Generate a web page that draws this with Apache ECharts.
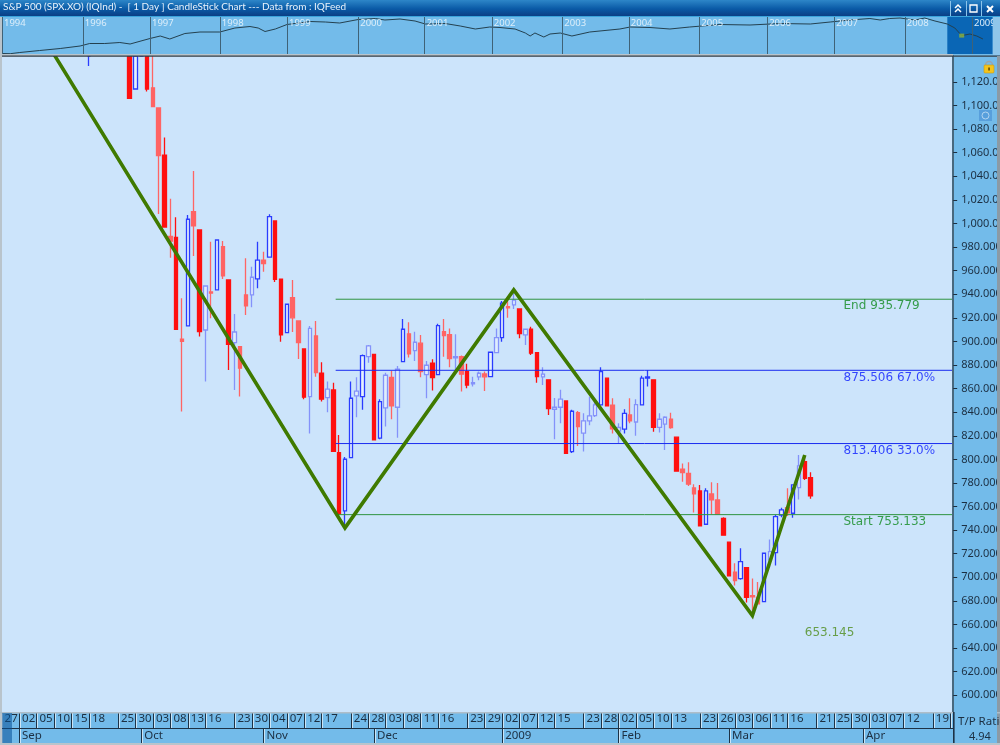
<!DOCTYPE html>
<html><head><meta charset="utf-8">
<style>html,body{margin:0;padding:0;background:#73bbea;overflow:hidden}#c{width:1000px;height:745px}</style>
<script src="https://cdn.jsdelivr.net/npm/echarts@6/dist/echarts.min.js"></script>
</head><body><div id="c"></div>
<script>
// session index, open, close, low, high
const ohlc = [
[15,1150,1160,1133.6,1170],[22,1150,1106,1106,1170],[23,1114,1150,1114,1170],[24,1160,1150,1141.5,1170],[25,1160,1114,1112,1170],
[26,1115,1099,1099,1160],[27,1098,1057.5,1008,1098],[28,1058,997,997,1073],[29,989,985,971,1021],[30,988.3,910.3,910.3,1005.3],
[31,902,900,840.5,936.6],[32,913.1,1003.6,913.1,1007.2],[33,1010,997.9,972.5,1044.5],[34,994.5,908.3,904.1,994.5],[35,909.7,947,866,947],
[36,942,941,919.7,984.6],[37,943.7,986,943.7,986],[38,980.4,955.5,953,985.2],[39,952.1,897.6,875.8,952.1],[40,899,908,858.9,923.3],
[41,895.6,877.3,853.2,895.6],[42,939.4,930.1,922.5,970.5],[43,939.4,954.4,929,963.4],[44,953,968.9,945,984.6],[45,969,966,959,976],
[46,971.4,1005.8,971.4,1007.8],[47,1002.2,952.7,950.4,1002.2],[48,952.7,905.5,899.8,952.7],[49,907.5,931.5,907.5,931.5],[50,937.1,920,908,952.1],
[51,917.4,899,885,917.4],[52,893.6,852.7,851,893.6],[53,853.2,911,822,913],[54,904.7,873.5,870,917.4],[55,873,851,849,882.4],
[56,852.3,859.5,840,866],[57,858.9,806.9,806.9,865],[58,805.7,753.7,753.7,820.7],[59,756.3,800.1,743,802],[60,801.5,851.8,801.5,866],
[61,853.8,857.8,835.8,869.6],[62,853.2,888,842,889],[63,887.1,896.2,882,897],[64,889.1,816.5,816,889.1],[65,818,849,817,851],
[66,843.6,871.3,827.8,873.5],[67,869.6,845.3,834,875.2],[68,844.2,876.4,818.4,879.2],[69,882.9,910.3,882.9,919],[70,906.4,889.4,886.3,916.3],
[71,892.2,899.3,883.5,908.3],[72,898.5,874.4,869.6,905.5],[73,871.9,879.8,851.8,883.5],[74,881.5,869.3,858.3,884.9],[75,871.9,913.4,871.9,915],
[76,908.3,904.9,887,919],[77,905.8,885.4,878,911],[78,886,887,875.8,906],[79,887,872.2,857.5,888],[80,874.4,863,860.3,881],
[81,864,865,861.7,870],[82,869.9,873,867,874.5],[83,872.4,870,858,874.4],[84,870.1,890.8,870.1,890.8],[85,890.5,903.2,890,911],
[86,903.2,932.4,899.8,934.3],[87,929.5,928.5,920,935],[88,931,935,927.5,942],[89,927.5,906.6,902.7,927.5],[90,905.5,910.3,897,910.3],
[91,910.3,890,888.5,912.5],[92,890.5,870.1,865,890.5],[93,870,872.2,863,878],[94,867.4,843,837.7,867.4],[95,842.5,844.2,817,852],
[96,844.2,851,830.6,859],[97,849.5,805.2,805.2,849.5],[98,806.6,840.8,805.5,842],[99,839.6,827.8,811.4,841],[100,822.2,832.6,806.6,839],
[101,832.6,836.8,829,853],[102,837.1,846.2,836,850],[103,846.2,874.4,846.2,878],[104,868.8,845.3,845.3,868.8],[105,845.9,825.8,822,851.8],
[106,824,827,813.7,830.6],[107,825.6,839,822,842.5],[108,837.7,832.6,830.6,851.8],[109,831.7,846.4,820,851],[110,846.2,868.8,846.2,870.8],
[111,868.8,870,861.7,875.8],[112,867.4,827.2,823.5,867.4],[113,827.2,834,822.7,839],[114,829.8,835.7,808,836.5],[115,834,827,826,839.6],
[116,818.8,790,790,818.8],[117,791.6,788.8,781,796.6],[118,788,779,777.5,797.5],[119,775.8,770.7,755,779],[120,773.2,743.6,743,778.3],
[121,745,773.2,745,775.6],[122,770.7,765.6,753.5,780.6],[123,765.6,753.5,753,780],[124,750,735.7,735.7,751],[125,729.8,701.2,701.2,729.8],
[126,704.3,697.2,693,712],[127,698.9,713.3,698,724.7],[128,708.2,683,678.6,708.2],[129,684.5,683.5,668,699],[130,683,677.5,677,696],
[131,679.4,720.4,679.4,720.4],[132,714.8,721.8,708,732],[133,721,751.5,710,753],[134,752.7,757.2,751,759],[135,759,754.6,752,775.6],
[136,754.3,778.3,750.6,779],[137,776,794.4,766,803.7],[138,798,784,782.5,803],[139,784.5,769,766.7,789]
];
const faintSessions = [26,27,29,31,33,36,38,41,42,45,50,51,54,67,70,72,76,77,79,83,87,99,105,108,115,117,118,119,122,123,126,129,130,135,
 35,40,43,53,56,61,63,66,68,71,73,78,81,82,85,88,90,93,95,96,100,101,102,106,109,113,114,132,137];
const zigzag = [[9,1143.4],[59,741.9],[88,943.7],[129,667.5],[138,803.7]];
const levelFrom = 57.4, levelTo = 163.5;
const levelEnd = 935.779, levelUpper = 875.506, levelLower = 813.406, levelStart = 753.133, projected = 653.145;
const levelNames = ['End 935.779','875.506 67.0%','813.406 33.0%','Start 753.133'];
const priceMin = 585.8, priceMax = 1142;
const priceTicks = [600,620,640,660,680,700,720,740,760,780,800,820,840,860,880,900,920,940,960,980,1000,1020,1040,1060,1080,1100,1120];
const dayTicks = [[0,'27'],[3,'02'],[6,'05'],[9,'10'],[12,'15'],[15,'18'],[20,'25'],[23,'30'],[26,'03'],[29,'08'],[32,'13'],[35,'16'],[40,'23'],[43,'30'],[46,'04'],[49,'07'],[52,'12'],[55,'17'],[60,'24'],[63,'28'],[66,'03'],[69,'08'],[72,'11'],[75,'16'],[80,'23'],[83,'29'],[86,'02'],[89,'07'],[92,'12'],[95,'15'],[100,'23'],[103,'28'],[106,'02'],[109,'05'],[112,'10'],[115,'13'],[120,'23'],[123,'26'],[126,'03'],[129,'06'],[132,'11'],[135,'16'],[140,'21'],[143,'25'],[146,'30'],[149,'03'],[152,'07'],[155,'12'],[160,'19'],[163,'26']];
const monthTicks = [[0,''],[3,'Sep'],[24,'Oct'],[45,'Nov'],[64,'Dec'],[86,'2009'],[106,'Feb'],[125,'Mar'],[148,'Apr']];
const overviewYears = [[0,'1994'],[1.18,'1996'],[2.16,'1997'],[3.18,'1998'],[4.16,'1999'],[5.2,'2000'],[6.17,'2001'],[7.15,'2002'],[8.18,'2003'],[9.15,'2004'],[10.18,'2005'],[11.17,'2006'],[12.15,'2007'],[13.18,'2008'],[14.16,'2009']];
const overviewLine = [[0,.5],[.12,.3],[.26,1.5],[.55,3.5],[.85,5.5],[1.14,8],[1.28,10.5],[1.5,10.5],[1.72,11.5],[1.87,10],[2.16,15.5],[2.31,18],[2.45,15],[2.67,20.5],[2.89,22],[3.18,22],[3.4,26],[3.62,27.5],[3.74,26],[3.84,22.5],[3.99,25],[4.16,29.5],[4.5,32.5],[4.72,32],[4.93,31],[5.2,34.5],[5.45,35.5],[5.59,34],[5.81,35],[6.03,33],[6.18,30],[6.47,30.5],[6.69,28],[6.91,25],[7.12,27],[7.27,26.5],[7.49,25],[7.64,21],[7.71,18],[7.78,21],[7.91,17],[8,20],[8.15,21],[8.32,18],[8.58,22],[9.02,25],[9.17,27],[9.46,26.5],[9.75,25],[10.04,27],[10.48,29.5],[10.92,29],[11.36,30.5],[11.8,30],[12.09,32],[12.38,34],[12.67,35.5],[12.82,34],[12.96,35.5],[13.11,36],[13.33,34],[13.47,36],[13.62,33],[13.8,30],[13.91,26],[14.01,18.4],[14.13,20],[14.23,18],[14.32,15]];
const overviewWindow = [13.8,14.46], overviewMark = [14.01,18.4];
const titleText = 'S&P 500 (SPX.XO) (IQInd) -  [ 1 Day ] CandleStick Chart --- Data from : IQFeed';
const ratioLabel = 'T/P Ratio', ratioValue = '4.94';

const FONT='"Noto Sans"', PANEL='#73bbea', PLOT='#cce4fb', INK='#1c2f42';
const sessions = Array.from({length:164},(_,i)=>String(i));
const faint = new Set(faintSessions);
const stripe = (ticks)=>{const m=new Map(ticks);return sessions.map((_,i)=>m.has(i)?m.get(i):' ');};
const isTick=(ticks)=>{const s=new Set(ticks.map(t=>t[0]));return (i)=>s.has(i);};
// candles that run off the top of the window stop at the axis maximum
const fitRow=(r)=>[r[0],...r.slice(1).map(v=>Math.min(v,priceMax))];

function stripAxis(gridIndex,ticks,size){
  const has=isTick(ticks);
  return {type:'category',gridIndex,data:stripe(ticks),boundaryGap:false,position:'top',
    axisLine:{show:false},axisTick:{show:false},
    axisLabel:{show:true,interval:0,inside:true,margin:size,align:'left',color:INK,fontFamily:FONT,fontSize:11.5,padding:[0,0,0,3],hideOverlap:false,showMinLabel:true,showMaxLabel:true},
    splitLine:{show:true,interval:(i)=>has(i),lineStyle:{color:'#1d3246',width:1,shadowColor:'rgba(225,240,250,.8)',shadowBlur:0,shadowOffsetX:1}}};
}
function candle(name,rows,up,down,fill,lw){
  return {name,type:'candlestick',xAxisIndex:0,yAxisIndex:0,barWidth:4,encode:{x:0,y:[1,2,3,4]},z:3,
    itemStyle:{color:fill,color0:down,borderColor:up,borderColor0:down,borderWidth:lw},data:rows.map(fitRow)};
}
function level(name,v,color){
  return {name,type:'line',xAxisIndex:4,yAxisIndex:0,symbol:'none',silent:true,z:4,lineStyle:{color,width:1},data:[[levelFrom,v],[levelTo,v]]};
}
function tag(text,i,v,color,off){
  return {type:'scatter',xAxisIndex:0,yAxisIndex:0,symbolSize:0,silent:true,z:6,data:[[i,v]],
    label:{show:true,formatter:text,position:'right',distance:0,offset:off,color,fontFamily:'"DejaVu Sans"',fontSize:12}};
}
const option={
  animation:false,backgroundColor:PANEL,
  title:{text:titleText,left:3,top:2,padding:0,textStyle:{color:'#e8f2fb',fontFamily:'Lato',fontWeight:'normal',fontSize:10}},
  grid:[
    {left:-1.32,top:56,width:954.5,height:656,show:true,backgroundColor:PLOT,borderWidth:0,outerBoundsMode:'none'},
    {left:2,top:17,width:991,height:37,show:true,backgroundColor:PANEL,borderWidth:0,outerBoundsMode:'none'},
    {left:1.59,top:713,width:948.7,height:15,show:false,outerBoundsMode:'none'},
    {left:1.59,top:729,width:948.7,height:14,show:false,outerBoundsMode:'none'}
  ],
  xAxis:[
    {type:'category',gridIndex:0,data:sessions,show:false},
    {type:'value',gridIndex:1,min:0,max:14.467,position:'top',z:6,axisLine:{show:false},
      axisTick:{show:false,customValues:overviewYears.map(y=>y[0])},
      axisLabel:{show:true,inside:true,margin:1,align:'left',customValues:overviewYears.map(y=>y[0]),color:'#dceefa',fontFamily:FONT,fontSize:9.5,padding:[0,0,0,2],
        formatter:(v)=>{const y=overviewYears.find(t=>Math.abs(t[0]-v)<1e-6);return y?y[1]:'';}},
      splitLine:{show:true,lineStyle:{color:'#3f6277',width:1}}},
    stripAxis(2,dayTicks,0),
    stripAxis(3,monthTicks,1),
    {type:'value',gridIndex:0,min:-.5,max:163.5,show:false}
  ],
  yAxis:[
    {type:'value',gridIndex:0,position:'right',min:priceMin,max:priceMax,z:6,
      axisLine:{show:true,onZero:false,lineStyle:{color:'#48687e',width:2}},
      axisTick:{show:true,length:4,inside:false,customValues:priceTicks,lineStyle:{color:INK}},
      axisLabel:{customValues:priceTicks,margin:8,color:INK,fontFamily:FONT,fontSize:11,
        formatter:(v)=>Number(v).toLocaleString('en-US',{minimumFractionDigits:3,maximumFractionDigits:3})},
      splitLine:{show:false}},
    {type:'value',gridIndex:1,min:0,max:37,show:false},
    {type:'value',gridIndex:2,show:false},
    {type:'value',gridIndex:3,show:false}
  ],
  series:[
    {type:'line',xAxisIndex:1,yAxisIndex:1,symbol:'none',silent:true,lineStyle:{color:'#24404f',width:1},data:overviewLine,z:3,
      markArea:{silent:true,itemStyle:{color:'#0a66b5'},data:[[{xAxis:overviewWindow[0]},{xAxis:overviewWindow[1]}]],z:1}},
    {type:'scatter',xAxisIndex:1,yAxisIndex:1,symbol:'rect',symbolSize:[5,4],silent:true,itemStyle:{color:'#8fb23a'},data:[overviewMark],z:7},
    {type:'line',xAxisIndex:2,yAxisIndex:2,data:[],silent:true},
    {type:'line',xAxisIndex:3,yAxisIndex:3,data:[],silent:true},
    level('End',levelEnd,'#2f9440'),level('Upper',levelUpper,'#1a2cf0'),level('Lower',levelLower,'#1a2cf0'),level('Start',levelStart,'#2f9440'),
    candle('Firm',ohlc.filter(r=>!faint.has(r[0])),'#2a3cff','#ff1010','#e6f1fd',1.3),
    candle('Faint',ohlc.filter(r=>faint.has(r[0])),'#8492fa','#ff6464','#dfeefd',1.3),
    {name:'Zigzag',type:'line',xAxisIndex:0,yAxisIndex:0,symbol:'none',silent:true,z:5,lineStyle:{color:'#3f7a00',width:3.6,join:'miter',cap:'butt'},data:zigzag},
    tag(levelNames[0],145,levelEnd,'#0f8a1f',[-2,7]),
    tag(levelNames[1],145,levelUpper,'#0a1cff',[-2,8]),
    tag(levelNames[2],145,levelLower,'#0a1cff',[-2,7]),
    tag(levelNames[3],145,levelStart,'#0f8a1f',[-2,7]),
    tag(projected.toFixed(3),138,projected,'#4d8c1c',[0,0])
  ],
  graphic:[
    {type:'rect',z:1,shape:{x:0,y:0,width:1000,height:16},style:{fill:new echarts.graphic.LinearGradient(0,0,0,1,[{offset:0,color:'#2d86c8'},{offset:.55,color:'#0a5aa6'},{offset:1,color:'#0b3f86'}])}},
    {type:'rect',z:1,shape:{x:0,y:16,width:1000,height:1},style:{fill:'#3aa4dc'}},
    {type:'rect',z:20,shape:{x:0,y:54,width:953,height:2},style:{fill:'#b9c4cc'}},
    {type:'rect',z:20,shape:{x:0,y:55.5,width:1000,height:1.2},style:{fill:'#333d45'}},
    {type:'rect',z:20,shape:{x:0,y:17,width:2,height:726},style:{fill:'#b9c4cc'}},
    {type:'rect',z:20,shape:{x:997,y:56,width:3,height:689},style:{fill:'#8b9aa5'}},
    {type:'rect',z:20,shape:{x:993,y:17,width:7,height:38},style:{fill:'#8fc6ea'}},
    {type:'rect',z:20,shape:{x:0,y:712,width:1000,height:1.5},style:{fill:'#aebdc8'}},
    {type:'rect',z:20,shape:{x:2,y:728,width:951,height:1},style:{fill:'#1d3246'}},
    {type:'rect',z:20,shape:{x:0,y:743,width:1000,height:2},style:{fill:'#b9c4cc'}},
    {type:'rect',z:20,shape:{x:2,y:713,width:10,height:30},style:{fill:'rgba(6,80,150,.55)'}},
    {type:'rect',z:20,shape:{x:953,y:712,width:44,height:31},style:{fill:PANEL}},
    {type:'rect',z:21,shape:{x:953,y:712,width:1.6,height:31},style:{fill:'#1d3246'}},
    {type:'text',z:22,style:{x:958,y:716,text:ratioLabel,fill:INK,font:'11.5px "Noto Sans"'}},
    {type:'text',z:22,style:{x:969,y:731,text:ratioValue,fill:INK,font:'11px "Noto Sans"'}},
    {type:'rect',z:8,shape:{x:950,y:1,width:1,height:15},style:{fill:'#8cc4ea'}},
    {type:'rect',z:8,shape:{x:966,y:1,width:1,height:15},style:{fill:'#8cc4ea'}},
    {type:'rect',z:8,shape:{x:981,y:1,width:1,height:15},style:{fill:'#8cc4ea'}},
    {type:'polyline',z:8,shape:{points:[[955,8],[958,5],[961,8]]},style:{stroke:'#fff',fill:null,lineWidth:1.5}},
    {type:'polyline',z:8,shape:{points:[[955,12],[958,9],[961,12]]},style:{stroke:'#fff',fill:null,lineWidth:1.5}},
    {type:'rect',z:8,shape:{x:970,y:5,width:7,height:7},style:{stroke:'#fff',fill:null,lineWidth:1.3}},
    {type:'polyline',z:8,shape:{points:[[987,6],[993,12]]},style:{stroke:'#fff',lineWidth:2,fill:null}},
    {type:'polyline',z:8,shape:{points:[[993,6],[987,12]]},style:{stroke:'#fff',lineWidth:2,fill:null}},
    {type:'arc',z:9,shape:{cx:989,cy:65,r:3.5,startAngle:Math.PI,endAngle:0},style:{stroke:'#9aa5ad',lineWidth:1.6,fill:null}},
    {type:'rect',z:9,shape:{x:984,y:65,width:10,height:8,r:1},style:{fill:'#f4c41c',stroke:'#c99a10',lineWidth:.6}},
    {type:'rect',z:9,shape:{x:988.3,y:67.5,width:1.5,height:3},style:{fill:'#5a4200'}},
    {type:'rect',z:9,shape:{x:979,y:110,width:13,height:11},style:{fill:'rgba(70,140,210,.6)'}},
    {type:'circle',z:9,shape:{cx:985.5,cy:115.5,r:3.5},style:{stroke:'rgba(200,225,245,.8)',fill:null,lineWidth:1}}
  ]
};
const chart=echarts.init(document.getElementById('c'),null,{renderer:'canvas',width:1000,height:745});
chart.setOption(option);
</script></body></html>
